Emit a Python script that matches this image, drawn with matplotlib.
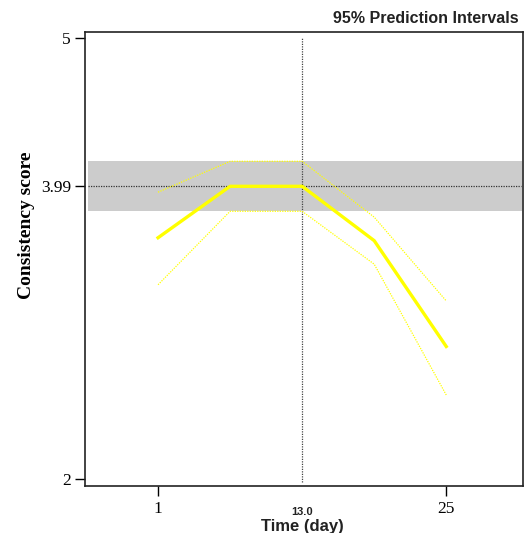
import numpy as np
import matplotlib
matplotlib.use('Agg')
import matplotlib.pyplot as plt
import matplotlib.transforms as mtransforms

# Data
days = [1, 7, 13, 19, 25]
mean_score = [3.64, 3.99, 3.99, 3.62, 2.90]
upper_pi = [3.95, 4.16, 4.16, 3.78, 3.21]
lower_pi = [3.32, 3.82, 3.82, 3.46, 2.57]
ref_score = 3.99
ref_low, ref_high = 3.82, 4.16
ref_day = 13.0
xticks = [1, 25]
yticks = [2, 3.99, 5]
ytick_labels = ['2', '3.99', '5']

fig = plt.figure(figsize=(5.30, 5.33), dpi=100)
ax = fig.add_axes([0.160, 0.088, 0.827, 0.852])

# gray reference band and reference lines
ax.fill_between([-4.8, 31.3], ref_low, ref_high, color='#cccccc', lw=0, zorder=1)
ax.axhline(ref_score, xmin=0.008, xmax=0.995, color='#333333', lw=0.9, ls=(0, (1, 1)), zorder=2)
ax.axvline(ref_day, ymin=0.01, ymax=0.99, color='#444444', lw=0.9, ls=(0, (1, 1)), zorder=2)

# prediction intervals and mean
ax.plot(days, upper_pi, color='#ffff00', lw=0.9, ls=(0, (1, 1)), zorder=3)
ax.plot(days, lower_pi, color='#ffff00', lw=0.9, ls=(0, (1, 1)), zorder=3)
ax.plot(days, mean_score, color='#ffff00', lw=2.4, zorder=4)

ax.set_xlim(-5.1, 31.4)
ax.set_ylim(1.95, 5.04)
ax.set_xticks(xticks)
ax.set_xticklabels([str(t) for t in xticks], fontfamily='Liberation Serif', fontsize=12.5)
ax.set_yticks(yticks)
ax.set_yticklabels(ytick_labels, fontfamily='Liberation Serif', fontsize=12.5)
ax.tick_params(axis='both', length=7, width=1, color='black', pad=3)
ax.tick_params(axis='x', pad=4)

for s in ax.spines.values():
    s.set_linewidth(1.2)
    s.set_color('#222222')

# reference day label under the axis
trans = mtransforms.blended_transform_factory(ax.transData, ax.transAxes)
ax.text(ref_day, -0.057, '13.0', transform=trans, ha='center', va='center',
        fontsize=8, fontweight='bold', fontfamily='Liberation Sans', color='#222222')

fig.text(0.570, 0.012, 'Time (day)', ha='center', va='center', fontsize=12,
         fontweight='bold', fontfamily='Liberation Sans', color='#222222')
fig.text(0.050, 0.578, 'Consistency score', rotation=90, ha='center', va='center',
         fontsize=14, fontweight='bold', fontfamily='Liberation Serif')
fig.text(0.978, 0.966, '95% Prediction Intervals', ha='right', va='center',
         fontsize=11.5, fontweight='bold', fontfamily='Liberation Sans', color='#222222')

fig.savefig('out.png', dpi=100)
